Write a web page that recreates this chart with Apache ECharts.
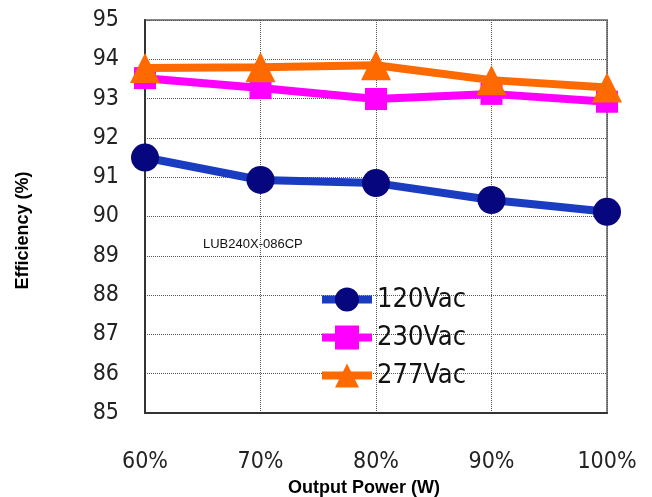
<!DOCTYPE html>
<html><head><meta charset="utf-8">
<script src="https://cdn.jsdelivr.net/npm/echarts@6/dist/echarts.min.js"></script>
<style>html,body{margin:0;padding:0;background:#fff}#c{width:652px;height:497px}</style>
</head><body><div id="c"></div>
<script>
const categories = ['60%', '70%', '80%', '90%', '100%'];
const v120 = [91.5, 90.93, 90.85, 90.42, 90.12];
const v230 = [93.52, 93.27, 92.99, 93.12, 92.92];
const v277 = [93.78, 93.8, 93.85, 93.47, 93.28];
const yTicks = [85, 86, 87, 88, 89, 90, 91, 92, 93, 94, 95];

const narrow = '"Liberation Sans Narrow","DejaVu Sans Condensed",sans-serif';
const chart = echarts.init(document.getElementById('c'));
chart.setOption({
  animation: false,
  backgroundColor: '#fff',
  grid: { left: 145, right: 45, top: 20, bottom: 84, show: true, borderColor: '#888', borderWidth: 2, outerBoundsMode: 'none', containLabel: false },
  title: { text: 'LUB240X-086CP', left: 198, top: 233, textStyle: { fontFamily: 'Liberation Sans, Arial', fontSize: 13, fontWeight: 'normal', color: '#111' } },
  legend: {
    orient: 'vertical', left: 313, top: 281, itemGap: 11, itemWidth: 50, itemHeight: 30,
    lineStyle: { width: 8 },
    textStyle: { fontFamily: narrow, fontSize: 27, color: '#111' },
    data: ['120Vac', '230Vac', '277Vac']
  },
  xAxis: {
    type: 'category', data: categories, boundaryGap: false,
    name: 'Output Power (W)', nameLocation: 'middle', nameGap: 59,
    nameTextStyle: { fontFamily: 'Liberation Sans, Arial', fontWeight: 'bold', fontSize: 18, color: '#000', padding: [0, 24, 0, 0] },
    axisLine: { lineStyle: { color: '#333', width: 2 } },
    axisTick: { show: false },
    axisLabel: { margin: 38, fontFamily: narrow, fontSize: 23, color: '#222' },
    splitLine: { show: true, lineStyle: { type: 'dotted', color: '#555', width: 1 } }
  },
  yAxis: {
    type: 'value', min: yTicks[0], max: yTicks[yTicks.length - 1], interval: 1,
    name: 'Efficiency (%)', nameLocation: 'middle', nameGap: 113,
    nameTextStyle: { fontFamily: 'Liberation Sans, Arial', fontWeight: 'bold', fontSize: 18, color: '#000', padding: [0, 28, 0, 0] },
    axisLine: { show: true, lineStyle: { color: '#333', width: 2 } },
    axisTick: { show: false },
    axisLabel: { margin: 26, fontFamily: narrow, fontSize: 23, color: '#222' },
    splitLine: { show: true, lineStyle: { type: 'dotted', color: '#555', width: 1 } }
  },
  series: [
    { name: '120Vac', type: 'line', data: v120, symbol: 'circle', symbolSize: 28,
      lineStyle: { color: '#1a3cc0', width: 8 }, itemStyle: { color: '#06067e' }, z: 3 },
    { name: '230Vac', type: 'line', data: v230, symbol: 'rect', symbolSize: 22,
      lineStyle: { color: '#ff00ff', width: 8 }, itemStyle: { color: '#ff00ff' }, z: 4 },
    { name: '277Vac', type: 'line', data: v277, symbol: 'triangle', symbolSize: 30,
      lineStyle: { color: '#ff6a00', width: 8 }, itemStyle: { color: '#ff6a00' }, z: 5 }
  ]
});
</script></body></html>
